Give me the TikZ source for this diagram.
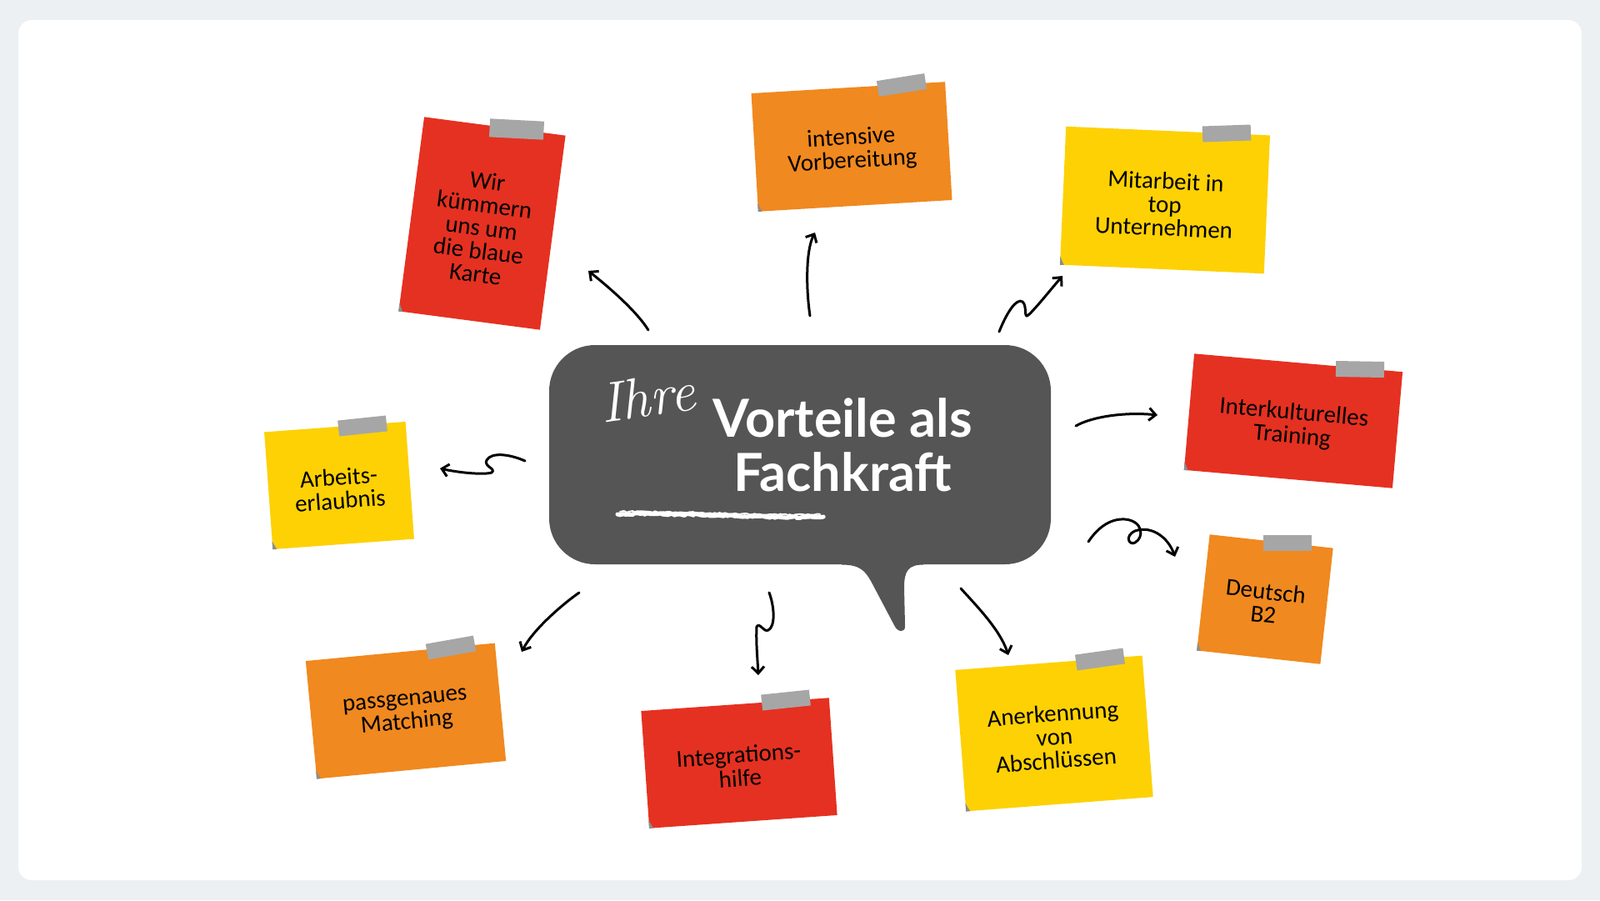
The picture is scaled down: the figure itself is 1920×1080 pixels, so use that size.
\documentclass[tikz,border=0pt]{standalone}
\usepackage{fontspec}
\newfontfamily\zettelfont{Carlito}
\newfontfamily\titelfont{Lato}
\usetikzlibrary{arrows.meta,calc,decorations.pathmorphing}
\definecolor{hintergrund}{HTML}{ECF0F3}
\definecolor{blasengrau}{HTML}{555555}
\definecolor{zrot}{HTML}{E53121}
\definecolor{zorange}{HTML}{F0891F}
\definecolor{zgelb}{HTML}{FDD104}
\definecolor{klebegrau}{HTML}{A6A6A6}
\tikzset{
  zettel/.style={fill=#1, inner sep=0pt},
  zettext/.style={inner sep=0pt, align=center, text=black,
    font=\zettelfont\fontsize{29}{28}\selectfont},
  klebe/.style={fill=klebegrau, inner sep=0pt, minimum width=58pt, minimum height=19pt},
  falte/.style={fill=klebegrau!85!black},
  blase/.style={fill=blasengrau, rounded corners=55pt, inner sep=0pt,
    minimum width=602pt, minimum height=263pt},
  titel/.style={text=white, anchor=base, font=\titelfont\bfseries\fontsize{63}{65}\selectfont},
  pfeil/.style={draw=black, line width=3pt, line cap=round,
    -{Straight Barb[length=8pt,width=15pt]}},
  kreide/.style={white, line cap=round, decorate,
    decoration={random steps, segment length=3pt, amplitude=0.9pt}}
}
\begin{document}
\begin{tikzpicture}[x=1pt, y=-1pt]
  \useasboundingbox (0,0) rectangle (1920,1080);
  \fill[hintergrund] (0,0) rectangle (1920,1080);
  \fill[white, rounded corners=16pt] (22,24) rectangle (1898,1056);

  \coordinate (a-karte) at (778,396);
  \coordinate (e-karte) at (706,325);
  \coordinate (a-vorb) at (972,379);
  \coordinate (e-vorb) at (978,279);
  \coordinate (a-unter) at (1199,398);
  \coordinate (e-unter) at (1275,331);
  \coordinate (a-train) at (1291,511);
  \coordinate (e-train) at (1389,498);
  \coordinate (a-deutsch) at (1306,650);
  \coordinate (e-deutsch) at (1410,668);
  \coordinate (a-absch) at (1153,706);
  \coordinate (e-absch) at (1210,786);
  \coordinate (a-integ) at (923,711);
  \coordinate (e-integ) at (910,810);
  \coordinate (a-match) at (695,711);
  \coordinate (e-match) at (626,782);
  \coordinate (a-erlaub) at (630,553);
  \coordinate (e-erlaub) at (528,562);

  \begin{scope}[pfeil]
    \draw (a-karte) .. controls (765,375) and (735,348) .. (e-karte);
    \draw (a-vorb) .. controls (967,345) and (967,300) .. (e-vorb);
    \draw (a-unter) .. controls (1208,375) and (1220,357) .. (1227,362)
      .. controls (1233,367) and (1228,383) .. (1234,378)
      .. controls (1242,371) and (1262,346) .. (e-unter);
    \draw (a-train) .. controls (1310,500) and (1350,494) .. (e-train);
    \draw (a-deutsch) .. controls (1318,632) and (1333,622) .. (1350,623)
      .. controls (1372,625) and (1373,645) .. (1362,651)
      .. controls (1355,655) and (1349,643) .. (1362,637)
      .. controls (1382,630) and (1402,645) .. (e-deutsch);
    \draw (a-absch) .. controls (1170,725) and (1200,755) .. (e-absch);
    \draw (a-integ) .. controls (930,730) and (930,752) .. (922,756)
      .. controls (916,759) and (912,746) .. (908,752)
      .. controls (907,770) and (909,790) .. (e-integ);
    \draw (a-match) .. controls (675,725) and (640,755) .. (e-match);
    \draw (a-erlaub) .. controls (612,545) and (590,542) .. (584,552)
      .. controls (580,560) and (596,562) .. (590,567)
      .. controls (580,570) and (550,567) .. (e-erlaub);
  \end{scope}

  \node[blase] (blase) at (960,545.5) {};
  \fill[blasengrau] (1010,670) -- (1010,677.5) .. controls (1032,677.5) and (1038,685) .. (1045,697)
    -- (1073,750) .. controls (1077,759) and (1087,760) .. (1086,750)
    -- (1085,705) .. controls (1085,685) and (1090,677.5) .. (1108,677.5) -- (1108,670) -- cycle;
  \node[text=white, font=\itshape\fontsize{68}{68}\selectfont, rotate=8] (ihre) at (777,476) {Ihre};
  \node[titel] (titel1) at (1011,524) {Vorteile als};
  \node[titel] (titel2) at (1011,589) {Fachkraft};
  \draw[kreide, line width=5pt] (741,617) .. controls (820,615) and (900,622) .. (988,620);
  \draw[kreide, line width=2pt] (744,614) .. controls (820,613) and (900,619) .. (984,617);

  \node[zettel=zrot, minimum width=171pt, minimum height=235pt, rotate=-7.5] (karte) at (578.5,268) {};
  \node[zettel=zorange, minimum width=233pt, minimum height=142pt, rotate=3.4] (vorb) at (1022,176) {};
  \node[zettel=zgelb, minimum width=245pt, minimum height=166pt, rotate=-2.5] (unter) at (1398,240) {};
  \node[zettel=zrot, minimum width=251pt, minimum height=140pt, rotate=-5] (train) at (1552,505) {};
  \node[zettel=zorange, minimum width=149pt, minimum height=140pt, rotate=-6.3] (deutsch) at (1518,719) {};
  \node[zettel=zgelb, minimum width=225pt, minimum height=170pt, rotate=4.4] (absch) at (1265,880) {};
  \node[zettel=zrot, minimum width=226pt, minimum height=141pt, rotate=4] (integ) at (887,915.5) {};
  \node[zettel=zorange, minimum width=228pt, minimum height=142pt, rotate=5.4] (match) at (487,853) {};
  \node[zettel=zgelb, minimum width=170pt, minimum height=141pt, rotate=4.2] (erlaub) at (407,582.5) {};

  \node[zettext, rotate=-7.5] (t-karte) at ($(karte.center)!5pt!(karte.south)$)
    {Wir\\kümmern\\uns um\\die blaue\\Karte};
  \node[zettext, rotate=3.4] (t-vorb) at ($(vorb.center)!4pt!(vorb.south)$)
    {intensive\\Vorbereitung};
  \node[zettext, rotate=-2.5] (t-unter) at ($(unter.center)!5pt!(unter.south)$)
    {Mitarbeit in\\top\\Unternehmen};
  \node[zettext, rotate=-5] (t-train) at ($(train.center)!5pt!(train.south)$)
    {Interkulturelles\\Training};
  \node[zettext, rotate=-6.3] (t-deutsch) at ($(deutsch.center)!4pt!(deutsch.south)$)
    {Deutsch\\B2};
  \node[zettext, rotate=4.4] (t-absch) at ($(absch.center)!4pt!(absch.south)$)
    {Anerkennung\\von\\Abschlüssen};
  \node[zettext, rotate=4] (t-integ) at ($(integ.center)!4pt!(integ.south)$)
    {Integrations-\\hilfe};
  \node[zettext, rotate=5.4] (t-match) at ($(match.center)!3pt!(match.south)$)
    {passgenaues\\Matching};
  \node[zettext, rotate=4.2] (t-erlaub) at ($(erlaub.center)!4pt!(erlaub.south)$)
    {Arbeits-\\erlaubnis};

  \node[klebe, minimum width=65pt, minimum height=22pt, rotate=-3] (k-karte) at (620,155) {};
  \node[klebe, rotate=9] (k-vorb) at (1082,102) {};
  \node[klebe, rotate=2] (k-unter) at (1472,160) {};
  \node[klebe, rotate=-1] (k-train) at (1632,443) {};
  \node[klebe] (k-deutsch) at (1545,651) {};
  \node[klebe, rotate=8] (k-absch) at (1320,791) {};
  \node[klebe, rotate=6] (k-integ) at (943,840) {};
  \node[klebe, rotate=10] (k-match) at (541,777) {};
  \node[klebe, rotate=6] (k-erlaub) at (435,511) {};

  \foreach \z in {karte,vorb,unter,train,deutsch,absch,integ,match,erlaub}
    \fill[falte] ($(\z.south west)!10pt!(\z.north west)$) -- (\z.south west)
      -- ($(\z.south west)!5pt!(\z.south east)$) -- cycle;
\end{tikzpicture}
\end{document}
